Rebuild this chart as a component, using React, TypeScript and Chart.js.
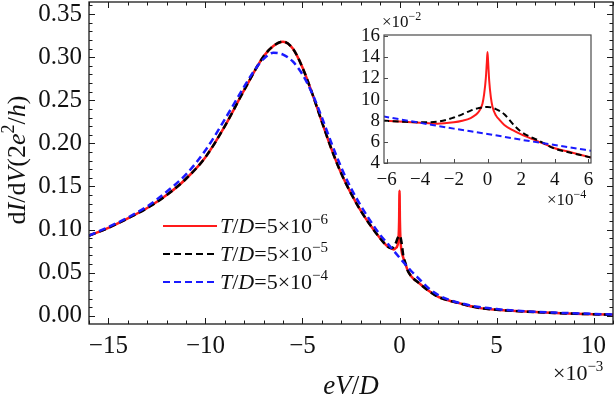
import React, { useEffect, useRef } from "react";
import { Chart, registerables } from "chart.js";
Chart.register(...registerables);

const FONT = "'Liberation Serif', 'Times New Roman', serif";

// ---------- main plot data (x in 10^-3, y in 2e^2/h) ----------
const mainX = [-16, -15, -14, -13, -12, -11, -10, -9, -8, -7, -6.5, -6, -5.5, -5, -4.5, -4, -3.5, -3, -2.5, -2, -1.5, -1, -0.6, -0.4, -0.3, -0.2, -0.1, -0.05, -0.02, 0, 0.02, 0.05, 0.1, 0.2, 0.3, 0.4, 0.6, 1, 1.5, 2, 2.5, 3, 4, 5, 6, 7, 8, 9, 10, 11];
const redMain = [0.093, 0.102, 0.113, 0.125, 0.14, 0.159, 0.184, 0.22, 0.262, 0.301, 0.313, 0.318, 0.31, 0.288, 0.258, 0.225, 0.193, 0.165, 0.142, 0.122, 0.105, 0.09, 0.08, 0.078, 0.077, 0.0785, 0.082, 0.09, 0.11, 0.145, 0.11, 0.088, 0.076, 0.067, 0.0605, 0.054, 0.046, 0.038, 0.029, 0.022, 0.018, 0.015, 0.0095, 0.007, 0.0055, 0.0043, 0.0033, 0.0025, 0.0018, 0.0012];
const blackMain = [0.093, 0.102, 0.113, 0.125, 0.14, 0.159, 0.184, 0.22, 0.262, 0.301, 0.313, 0.318, 0.31, 0.288, 0.258, 0.225, 0.193, 0.165, 0.142, 0.122, 0.105, 0.09, 0.08, 0.0785, 0.08, 0.084, 0.09, 0.092, 0.093, 0.0928, 0.0925, 0.091, 0.0856, 0.069, 0.0615, 0.0535, 0.046, 0.038, 0.029, 0.022, 0.018, 0.015, 0.0095, 0.007, 0.0055, 0.0043, 0.0033, 0.0025, 0.0018, 0.0012];
const blueX = [-16, -15, -14, -13, -12, -11, -10, -9, -8, -7.5, -7, -6.5, -6, -5.5, -5, -4.5, -4, -3.5, -3, -2.5, -2, -1.5, -1, -0.6, 0, 0.6, 1, 1.5, 2, 2.5, 3, 4, 5, 6, 7, 8, 9, 10, 11];
const blueMain = [0.093, 0.103, 0.114, 0.127, 0.144, 0.164, 0.192, 0.228, 0.266, 0.284, 0.298, 0.305, 0.303, 0.295, 0.28, 0.258, 0.23, 0.2, 0.172, 0.148, 0.128, 0.11, 0.094, 0.0835, 0.0675, 0.052, 0.043, 0.032, 0.024, 0.019, 0.0155, 0.0105, 0.0078, 0.006, 0.0047, 0.0037, 0.0029, 0.0022, 0.0016];
const mainXTicks = [-15, -10, -5, 0, 5, 10];
const mainYTicks = [0, 0.05, 0.1, 0.15, 0.2, 0.25, 0.3, 0.35];
const legendExponents = ["\u22126", "\u22125", "\u22124"];

// ---------- inset data (x in 10^-4, y in 10^-2) ----------
const insetRedX = [-6.2, -5, -4, -3, -2, -1.5, -1, -0.7, -0.5, -0.3, -0.2, -0.1, -0.04, 0, 0.04, 0.1, 0.2, 0.3, 0.5, 0.7, 1, 1.5, 2, 3, 4, 5, 6.2];
const insetRed = [8.0, 7.9, 7.8, 7.72, 7.85, 8.0, 8.25, 8.55, 8.9, 9.6, 10.5, 12.0, 13.5, 14.5, 13.5, 11.8, 10.2, 9.3, 8.5, 8.1, 7.6, 7.1, 6.7, 6.05, 5.4, 5.0, 4.5];
const insetBlackX = [-6.2, -5, -4, -3, -2, -1.5, -1, -0.5, 0, 0.5, 1, 1.5, 2, 3, 4, 5, 6.2];
const insetBlack = [8.0, 7.9, 7.85, 7.9, 8.3, 8.6, 8.95, 9.2, 9.3, 9.1, 8.6, 7.7, 6.95, 6.15, 5.35, 4.95, 4.5];
const insetBlueX = [-6.2, -4, -2, 0, 2, 4, 6.2];
const insetBlue = [8.4, 7.8, 7.25, 6.75, 6.2, 5.7, 5.15];
const insetXTicks = [-6, -4, -2, 0, 2, 4, 6];
const insetYTicks = [4, 6, 8, 10, 12, 14, 16];

type Seg = { t: string; i?: boolean; sup?: boolean };

function segFont(s: Seg, size: number) {
  return `${s.i ? "italic " : ""}${s.sup ? Math.round(size * 0.68) : size}px ${FONT}`;
}
function drawRich(ctx: CanvasRenderingContext2D, segs: Seg[], x: number, y: number, size: number, align: "left" | "center" | "right") {
  let w = 0;
  for (const s of segs) {
    ctx.font = segFont(s, size);
    w += ctx.measureText(s.t).width;
  }
  let cx = align === "left" ? x : align === "center" ? x - w / 2 : x - w;
  ctx.textAlign = "left";
  ctx.textBaseline = "alphabetic";
  for (const s of segs) {
    ctx.font = segFont(s, size);
    ctx.fillText(s.t, cx, s.sup ? y - size * 0.42 : y);
    cx += ctx.measureText(s.t).width;
  }
}
const minusFmt = (v: number) => (v < 0 ? "\u2212" + Math.abs(v) : String(v));

const mainDecor = {
  id: "mainDecor",
  afterDraw(chart: any) {
    const { ctx, chartArea: a, scales } = chart;
    const xs = scales.x;
    const ys = scales.y;
    ctx.save();
    ctx.strokeStyle = "#1a1a1a";
    ctx.lineWidth = 1.3;
    ctx.strokeRect(a.left, a.top, a.right - a.left, a.bottom - a.top);
    ctx.lineWidth = 1;
    ctx.beginPath();
    for (let v = -16; v <= 11; v++) {
      const len = mainXTicks.includes(v) ? 6 : 3.5;
      const p = Math.round(xs.getPixelForValue(v)) + 0.5;
      ctx.moveTo(p, a.bottom);
      ctx.lineTo(p, a.bottom - len);
      ctx.moveTo(p, a.top);
      ctx.lineTo(p, a.top + len);
    }
    for (let k = -1; k <= 36; k++) {
      const len = k % 5 === 0 ? 6 : 3.5;
      const p = Math.round(ys.getPixelForValue(k / 100)) + 0.5;
      if (p < a.top || p > a.bottom) continue;
      ctx.moveTo(a.left, p);
      ctx.lineTo(a.left + len, p);
      ctx.moveTo(a.right, p);
      ctx.lineTo(a.right - len, p);
    }
    ctx.stroke();

    // legend
    const ds = chart.data.datasets;
    const rows = [226, 254, 282];
    for (let i = 0; i < 3; i++) {
      const d = ds[i];
      ctx.save();
      ctx.strokeStyle = d.borderColor;
      ctx.lineWidth = 2;
      ctx.setLineDash(d.borderDash || []);
      ctx.beginPath();
      ctx.moveTo(163, rows[i]);
      ctx.lineTo(217, rows[i]);
      ctx.stroke();
      ctx.restore();
      ctx.fillStyle = "#111";
      drawRich(ctx, [{ t: "T", i: true }, { t: "/" }, { t: "D", i: true }, { t: "=5\u00d710" }, { t: legendExponents[i], sup: true }], 220, rows[i] + 7, 22, "left");
    }

    ctx.fillStyle = "#111";
    drawRich(ctx, [{ t: "\u00d710" }, { t: "\u22123", sup: true }], 553, 380, 22, "left");
    drawRich(ctx, [{ t: "e", i: true }, { t: "V", i: true }, { t: "/" }, { t: "D", i: true }], (a.left + a.right) / 2, 394, 27, "center");

    ctx.save();
    ctx.translate(25, 160);
    ctx.rotate(-Math.PI / 2);
    drawRich(ctx, [{ t: "d" }, { t: "I", i: true }, { t: "/d" }, { t: "V", i: true }, { t: "(2" }, { t: "e", i: true }, { t: "2", sup: true }, { t: "/" }, { t: "h", i: true }, { t: ")" }], 0, 0, 26, "center");
    ctx.restore();
    ctx.restore();
  },
};

const insetDecor = {
  id: "insetDecor",
  afterDraw(chart: any) {
    const { ctx, chartArea: a, scales } = chart;
    ctx.save();
    ctx.strokeStyle = "#4a4a4a";
    ctx.lineWidth = 1.2;
    ctx.strokeRect(a.left, a.top, a.right - a.left, a.bottom - a.top);
    ctx.lineWidth = 1;
    ctx.beginPath();
    for (const v of insetXTicks) {
      const p = Math.round(scales.x.getPixelForValue(v)) + 0.5;
      ctx.moveTo(p, a.bottom);
      ctx.lineTo(p, a.bottom - 4);
    }
    for (const v of insetYTicks) {
      const p = Math.round(scales.y.getPixelForValue(v)) + 0.5;
      ctx.moveTo(a.left, p);
      ctx.lineTo(a.left + 4, p);
    }
    ctx.stroke();
    ctx.fillStyle = "#111";
    drawRich(ctx, [{ t: "\u00d710" }, { t: "\u22122", sup: true }], 42, 27, 17, "left");
    drawRich(ctx, [{ t: "\u00d710" }, { t: "\u22124", sup: true }], 207, 205, 17, "left");
    ctx.restore();
  },
};

function fixSize(w: number | null, h: number | null) {
  return (s: any) => {
    if (w !== null) s.width = w;
    if (h !== null) s.height = h;
    s.paddingLeft = 0;
    s.paddingRight = 0;
    s.paddingTop = 0;
    s.paddingBottom = 0;
  };
}
const pts = (xs: number[], ys: number[]) => xs.map((x, i) => ({ x, y: ys[i] }));

export default function App() {
  const mainRef = useRef<HTMLCanvasElement>(null);
  const insetRef = useRef<HTMLCanvasElement>(null);

  useEffect(() => {
    const lineDs = (label: string, data: any[], color: string, dash: number[], width: number, order: number) => ({
      label,
      data,
      borderColor: color,
      borderDash: dash,
      borderWidth: width,
      pointRadius: 0,
      fill: false,
      cubicInterpolationMode: "monotone" as const,
      order,
    });

    const main = new Chart(mainRef.current!, {
      type: "line",
      data: {
        datasets: [
          lineDs("T/D=5e-6", pts(mainX, redMain), "#ff1a1a", [], 2.5, 3),
          lineDs("T/D=5e-5", pts(mainX, blackMain), "#000000", [7, 4], 2.5, 2),
          lineDs("T/D=5e-4", pts(blueX, blueMain), "#1a1aff", [7, 4], 2.5, 1),
        ],
      },
      options: {
        animation: false,
        responsive: false,
        devicePixelRatio: 1,
        layout: { padding: { top: 2, right: 3, left: 0, bottom: 0 } },
        plugins: { legend: { display: false }, tooltip: { enabled: false } },
        scales: {
          x: {
            type: "linear",
            min: -16,
            max: 11,
            grid: { display: false, drawTicks: false },
            border: { display: false },
            afterBuildTicks: (s: any) => {
              s.ticks = mainXTicks.map((v) => ({ value: v }));
            },
            afterFit: fixSize(null, 75),
            ticks: {
              autoSkip: false,
              maxRotation: 0,
              padding: 7,
              color: "#111",
              font: { family: FONT, size: 25 },
              callback: (v: any) => minusFmt(Number(v)),
            },
          },
          y: {
            type: "linear",
            min: -0.0095,
            max: 0.364,
            grid: { display: false, drawTicks: false },
            border: { display: false },
            afterBuildTicks: (s: any) => {
              s.ticks = mainYTicks.map((v) => ({ value: v }));
            },
            afterFit: fixSize(89, null),
            ticks: {
              autoSkip: false,
              padding: 7,
              color: "#111",
              font: { family: FONT, size: 25 },
              callback: (v: any) => Number(v).toFixed(2),
            },
          },
        },
      },
      plugins: [mainDecor],
    });

    const inset = new Chart(insetRef.current!, {
      type: "line",
      data: {
        datasets: [
          lineDs("red", pts(insetRedX, insetRed), "#ff1a1a", [], 2, 3),
          lineDs("black", pts(insetBlackX, insetBlack), "#000000", [6, 3.5], 2, 2),
          lineDs("blue", pts(insetBlueX, insetBlue), "#1a1aff", [6, 3.5], 2, 1),
        ],
      },
      options: {
        animation: false,
        responsive: false,
        devicePixelRatio: 1,
        layout: { padding: { top: 35, right: 25, left: 0, bottom: 0 } },
        plugins: { legend: { display: false }, tooltip: { enabled: false } },
        scales: {
          x: {
            type: "linear",
            min: -6.15,
            max: 6.15,
            grid: { display: false, drawTicks: false },
            border: { display: false },
            afterBuildTicks: (s: any) => {
              s.ticks = insetXTicks.map((v) => ({ value: v }));
            },
            afterFit: fixSize(null, 52),
            ticks: {
              autoSkip: false,
              maxRotation: 0,
              padding: 6,
              color: "#111",
              font: { family: FONT, size: 19 },
              callback: (v: any) => minusFmt(Number(v)),
            },
          },
          y: {
            type: "linear",
            min: 4,
            max: 16.1,
            grid: { display: false, drawTicks: false },
            border: { display: false },
            afterBuildTicks: (s: any) => {
              s.ticks = insetYTicks.map((v) => ({ value: v }));
            },
            afterFit: fixSize(44, null),
            ticks: {
              autoSkip: false,
              padding: 4,
              color: "#111",
              font: { family: FONT, size: 19 },
              callback: (v: any) => String(v),
            },
          },
        },
      },
      plugins: [insetDecor],
    });

    return () => {
      main.destroy();
      inset.destroy();
    };
  }, []);

  return (
    <div style={{ position: "absolute", left: 0, top: 0, width: 616, height: 399, background: "#fff" }}>
      <canvas ref={mainRef} width={616} height={399} style={{ position: "absolute", left: 0, top: 0, width: 616, height: 399 }} />
      <canvas ref={insetRef} width={276} height={215} style={{ position: "absolute", left: 340, top: 0, width: 276, height: 215 }} />
    </div>
  );
}
